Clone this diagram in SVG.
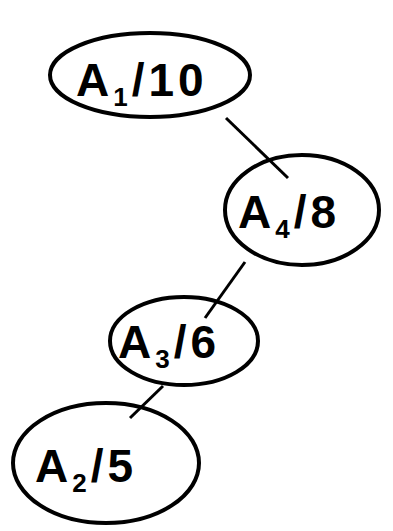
<svg xmlns="http://www.w3.org/2000/svg" width="393" height="531" viewBox="0 0 393 531">
<style>
.n{fill:none;stroke:#000;stroke-width:4}
.c{stroke:#000;stroke-width:3;fill:none}
.t{font-family:"Liberation Sans",Arial,sans-serif;font-weight:bold;font-size:46px;letter-spacing:4px;fill:#000}
.s{font-size:26px}
</style>
<rect width="393" height="531" fill="#fff"/>
<g id="connectors">
<line class="c" x1="226" y1="118" x2="288" y2="178"/>
<line class="c" x1="245" y1="262" x2="205" y2="318"/>
<line class="c" x1="163" y1="386" x2="130" y2="418"/>
</g>
<g id="n1">
<ellipse class="n" cx="150" cy="75" rx="100" ry="42"/>
<text class="t" x="76" y="96">A<tspan class="s" dy="10">1</tspan><tspan dy="-10">/10</tspan></text>
</g>
<g id="n4">
<ellipse class="n" cx="302" cy="210" rx="77" ry="55"/>
<text class="t" x="238" y="228">A<tspan class="s" dy="10">4</tspan><tspan dy="-10">/8</tspan></text>
</g>
<g id="n3">
<ellipse class="n" cx="184" cy="341" rx="74" ry="44"/>
<text class="t" x="118" y="358">A<tspan class="s" dy="10">3</tspan><tspan dy="-10">/6</tspan></text>
</g>
<g id="n2">
<ellipse class="n" cx="106" cy="463" rx="93" ry="60"/>
<text class="t" x="35" y="482">A<tspan class="s" dy="10">2</tspan><tspan dy="-10">/5</tspan></text>
</g>
</svg>
